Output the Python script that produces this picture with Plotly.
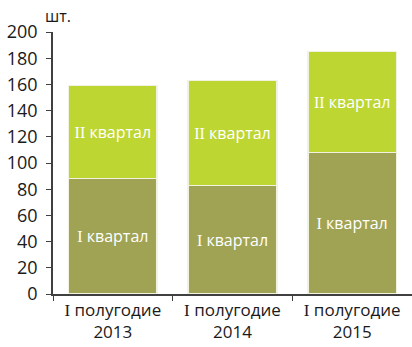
import plotly.graph_objects as go

SERIF_I = '<span style="font-family:Liberation Serif">I</span>'
SERIF_II = '<span style="font-family:Liberation Serif">II</span>'

categories = [SERIF_I + " полугодие<br>2013", SERIF_I + " полугодие<br>2014", SERIF_I + " полугодие<br>2015"]
q1_values = [88, 83, 108]
q2_values = [71, 80, 77]
y_ticks = list(range(0, 201, 20))

FONT = "Open Sans"

fig = go.Figure()
fig.add_trace(go.Bar(
    x=categories, y=q1_values, name="I квартал",
    marker=dict(color="#A0A353", line=dict(color="#F2F2E0", width=1.5)),
    texttemplate=SERIF_I + " квартал", textposition="inside", insidetextanchor="middle",
    textangle=0, constraintext="none", textfont=dict(color="white", size=16, family=FONT),
))
fig.add_trace(go.Bar(
    x=categories, y=q2_values, name="II квартал",
    marker=dict(color="#BED632", line=dict(color="#F2F2E0", width=1.5)),
    texttemplate=SERIF_II + " квартал", textposition="inside", insidetextanchor="middle",
    textangle=0, constraintext="none", textfont=dict(color="white", size=16, family=FONT),
))

fig.update_layout(
    barmode="stack", bargap=0.26,
    width=412, height=347,
    margin=dict(l=53, r=0, t=32, b=53),
    paper_bgcolor="white", plot_bgcolor="white",
    showlegend=False,
    font=dict(family=FONT, size=17, color="#1a1a1a"),
)
fig.update_xaxes(
    type="category", range=[-0.5, 2.5],
    showline=True, linecolor="#404040", linewidth=1.5,
    ticks="outside", tickson="boundaries", ticklen=5, tickcolor="#404040",
    tickfont=dict(size=17, family=FONT, color="#1a1a1a"),
    showgrid=False, fixedrange=True,
)
fig.update_yaxes(
    range=[0, 200], tickvals=y_ticks,
    showline=True, linecolor="#404040", linewidth=1.5,
    ticks="outside", ticklen=5, tickcolor="#404040", ticklabelstandoff=5,
    tickfont=dict(size=18, family=FONT, color="#1a1a1a"),
    showgrid=False, zeroline=False, fixedrange=True,
)
fig.add_annotation(
    text="шт.", xref="paper", yref="paper", x=0, y=1.0,
    xanchor="center", yanchor="bottom", showarrow=False,
    font=dict(size=16, family=FONT, color="#1a1a1a"), xshift=5, yshift=3,
)
fig.write_html("out.html")
